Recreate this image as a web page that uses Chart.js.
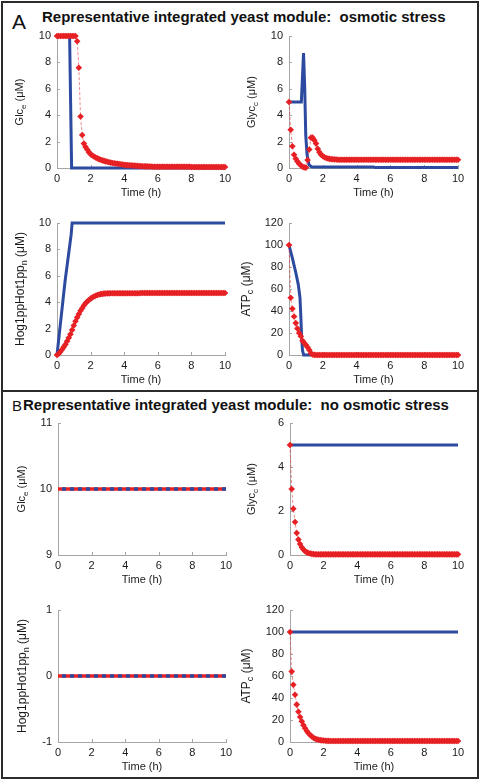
<!DOCTYPE html>
<html>
<head>
<meta charset="utf-8">
<script src="https://cdn.jsdelivr.net/npm/chart.js@4.4.1/dist/chart.umd.min.js"></script>
<style>
  html, body { margin: 0; padding: 0; background: #fff; }
  body { width: 480px; height: 780px; position: relative; overflow: hidden; font-family: "Liberation Sans", Arial, sans-serif; color: #111; }
  .frame { position: absolute; left: 1px; top: 1px; width: 478px; height: 778px; border: 2px solid #2b2b2b; box-sizing: border-box; }
  .divider { position: absolute; left: 1px; top: 390px; width: 478px; height: 2px; background: #2b2b2b; }
  .letter { position: absolute; line-height: 1; }
  .title { position: absolute; font-weight: bold; font-size: 15px; line-height: 1; white-space: pre; }
  canvas { position: absolute; }
</style>
</head>
<body>
<div class="frame"></div>
<div class="divider"></div>
<div class="letter" style="left:12px;top:11px;font-size:21px">A</div>
<div class="title" style="left:42px;top:9px">Representative integrated yeast module:  osmotic stress</div>
<div class="letter" style="left:12px;top:398px;font-size:15px">B</div>
<div class="title" style="left:23px;top:397px">Representative integrated yeast module:  no osmotic stress</div>

<canvas id="glcStress" width="228" height="174" style="left:7px;top:28px"></canvas>
<canvas id="glycStress" width="229" height="174" style="left:239px;top:28px"></canvas>
<canvas id="hogStress" width="228" height="174" style="left:7px;top:215px"></canvas>
<canvas id="atpStress" width="229" height="174" style="left:239px;top:215px"></canvas>
<canvas id="glcBase" width="228" height="174" style="left:8px;top:415px"></canvas>
<canvas id="glycBase" width="228" height="174" style="left:240px;top:415px"></canvas>
<canvas id="hogBase" width="228" height="174" style="left:8px;top:602px"></canvas>
<canvas id="atpBase" width="228" height="174" style="left:240px;top:602px"></canvas>

<script>
// time grid of the red (marker) series, hours
const tRed = [
  0, 0.1, 0.2, 0.3, 0.4, 0.5, 0.6, 0.7, 0.8, 0.9,
  1, 1.1, 1.2, 1.3, 1.4, 1.5, 1.6, 1.7, 1.8, 1.9,
  2, 2.1, 2.2, 2.3, 2.4, 2.5, 2.6, 2.7, 2.8, 2.9,
  3, 3.1, 3.2, 3.3, 3.4, 3.5, 3.6, 3.7, 3.8, 3.9,
  4, 4.1, 4.2, 4.3, 4.4, 4.5, 4.6, 4.7, 4.8, 4.9,
  5, 5.1, 5.2, 5.3, 5.4, 5.5, 5.6, 5.7, 5.8, 5.9,
  6, 6.1, 6.2, 6.3, 6.4, 6.5, 6.6, 6.7, 6.8, 6.9,
  7, 7.1, 7.2, 7.3, 7.4, 7.5, 7.6, 7.7, 7.8, 7.9,
  8, 8.1, 8.2, 8.3, 8.4, 8.5, 8.6, 8.7, 8.8, 8.9,
  9, 9.1, 9.2, 9.3, 9.4, 9.5, 9.6, 9.7, 9.8, 9.9,
  10
]

// A: osmotic stress, red series
const glcStressRed = [
  10, 10, 10, 10, 10, 10, 10, 10, 10, 10,
  10, 10, 9.6, 7.6, 3.9, 2.5, 1.85, 1.6, 1.4, 1.2,
  1.05, 0.95, 0.87, 0.8, 0.73, 0.67, 0.62, 0.58, 0.54, 0.5,
  0.47, 0.44, 0.41, 0.38, 0.36, 0.34, 0.32, 0.3, 0.28, 0.26,
  0.24, 0.23, 0.22, 0.21, 0.2, 0.19, 0.18, 0.17, 0.16, 0.15,
  0.14, 0.13, 0.13, 0.12, 0.12, 0.11, 0.11, 0.1, 0.1, 0.1,
  0.09, 0.09, 0.09, 0.09, 0.09, 0.09, 0.09, 0.09, 0.09, 0.09,
  0.09, 0.09, 0.09, 0.09, 0.09, 0.09, 0.09, 0.09, 0.09, 0.09,
  0.08, 0.08, 0.08, 0.08, 0.08, 0.08, 0.08, 0.08, 0.08, 0.08,
  0.08, 0.08, 0.08, 0.08, 0.08, 0.08, 0.08, 0.08, 0.08, 0.08,
  0.08
]
const glycStressRed = [
  5, 2.9, 1.65, 1.0, 0.7, 0.5, 0.32, 0.2, 0.1, 0.05,
  0.03, 0.6, 1.4, 2.3, 2.3, 2.1, 1.85, 1.45, 1.2, 1.0,
  0.9, 0.82, 0.76, 0.72, 0.69, 0.67, 0.66, 0.65, 0.64, 0.63,
  0.63, 0.63, 0.63, 0.63, 0.63, 0.63, 0.63, 0.63, 0.63, 0.63,
  0.63, 0.63, 0.63, 0.63, 0.63, 0.63, 0.63, 0.63, 0.63, 0.63,
  0.63, 0.63, 0.63, 0.63, 0.63, 0.63, 0.63, 0.63, 0.63, 0.63,
  0.63, 0.63, 0.63, 0.63, 0.63, 0.63, 0.63, 0.63, 0.63, 0.63,
  0.63, 0.63, 0.63, 0.63, 0.63, 0.63, 0.63, 0.63, 0.63, 0.63,
  0.63, 0.63, 0.63, 0.63, 0.63, 0.63, 0.63, 0.63, 0.63, 0.63,
  0.63, 0.63, 0.63, 0.63, 0.63, 0.63, 0.63, 0.63, 0.63, 0.63,
  0.63
]
const hogStressRed = [
  0, 0.1, 0.25, 0.42, 0.6, 0.8, 1.05, 1.3, 1.57, 1.9,
  2.23, 2.56, 2.85, 3.1, 3.35, 3.55, 3.75, 3.92, 4.05, 4.17,
  4.27, 4.36, 4.43, 4.49, 4.54, 4.58, 4.61, 4.63, 4.65, 4.66,
  4.67, 4.67, 4.68, 4.68, 4.68, 4.68, 4.68, 4.68, 4.68, 4.68,
  4.68, 4.68, 4.68, 4.68, 4.68, 4.68, 4.68, 4.68, 4.68, 4.68,
  4.7, 4.7, 4.7, 4.7, 4.7, 4.7, 4.7, 4.7, 4.7, 4.7,
  4.7, 4.7, 4.7, 4.7, 4.7, 4.7, 4.7, 4.7, 4.7, 4.7,
  4.7, 4.7, 4.7, 4.7, 4.7, 4.7, 4.7, 4.7, 4.7, 4.7,
  4.7, 4.7, 4.7, 4.7, 4.7, 4.7, 4.7, 4.7, 4.7, 4.7,
  4.7, 4.7, 4.7, 4.7, 4.7, 4.7, 4.7, 4.7, 4.7, 4.7,
  4.7
]
const atpStressRed = [
  100, 52, 42, 35, 29, 24, 20, 17, 13, 11,
  9, 7, 4.5, 1.5, 0.4, 0.1, 0, 0, 0, 0,
  0, 0, 0, 0, 0, 0, 0, 0, 0, 0,
  0, 0, 0, 0, 0, 0, 0, 0, 0, 0,
  0, 0, 0, 0, 0, 0, 0, 0, 0, 0,
  0, 0, 0, 0, 0, 0, 0, 0, 0, 0,
  0, 0, 0, 0, 0, 0, 0, 0, 0, 0,
  0, 0, 0, 0, 0, 0, 0, 0, 0, 0,
  0, 0, 0, 0, 0, 0, 0, 0, 0, 0,
  0, 0, 0, 0, 0, 0, 0, 0, 0, 0,
  0
]

// B: no osmotic stress, red series
const glycBaseRed = [
  5, 3.0, 2.1, 1.5, 1.0, 0.7, 0.5, 0.35, 0.25, 0.17,
  0.12, 0.09, 0.07, 0.05, 0.04, 0.03, 0.03, 0.03, 0.03, 0.03,
  0.03, 0.03, 0.03, 0.03, 0.03, 0.03, 0.03, 0.03, 0.03, 0.03,
  0.03, 0.03, 0.03, 0.03, 0.03, 0.03, 0.03, 0.03, 0.03, 0.03,
  0.03, 0.03, 0.03, 0.03, 0.03, 0.03, 0.03, 0.03, 0.03, 0.03,
  0.03, 0.03, 0.03, 0.03, 0.03, 0.03, 0.03, 0.03, 0.03, 0.03,
  0.03, 0.03, 0.03, 0.03, 0.03, 0.03, 0.03, 0.03, 0.03, 0.03,
  0.03, 0.03, 0.03, 0.03, 0.03, 0.03, 0.03, 0.03, 0.03, 0.03,
  0.03, 0.03, 0.03, 0.03, 0.03, 0.03, 0.03, 0.03, 0.03, 0.03,
  0.03, 0.03, 0.03, 0.03, 0.03, 0.03, 0.03, 0.03, 0.03, 0.03,
  0.03
]
const atpBaseRed = [
  100, 64, 52, 43, 34, 27.5, 22.7, 18.8, 15.3, 12.5,
  10, 8, 6.4, 5, 3.8, 3.0, 2.4, 2.0, 1.7, 1.45,
  1.3, 1.15, 1.05, 1.0, 0.95, 0.9, 0.9, 0.9, 0.9, 0.9,
  0.9, 0.9, 0.9, 0.9, 0.9, 0.9, 0.9, 0.9, 0.9, 0.9,
  0.9, 0.9, 0.9, 0.9, 0.9, 0.9, 0.9, 0.9, 0.9, 0.9,
  0.9, 0.9, 0.9, 0.9, 0.9, 0.9, 0.9, 0.9, 0.9, 0.9,
  0.9, 0.9, 0.9, 0.9, 0.9, 0.9, 0.9, 0.9, 0.9, 0.9,
  0.9, 0.9, 0.9, 0.9, 0.9, 0.9, 0.9, 0.9, 0.9, 0.9,
  0.9, 0.9, 0.9, 0.9, 0.9, 0.9, 0.9, 0.9, 0.9, 0.9,
  0.9, 0.9, 0.9, 0.9, 0.9, 0.9, 0.9, 0.9, 0.9, 0.9,
  0.9
]

// blue (line) series, each with its own time points
const tGlcStressBlue = [0, 0.75, 0.87, 10]
const glcStressBlue = [10, 10, 0, 0]
const tGlycStressBlue = [0, 0.73, 0.86, 0.88, 0.93, 0.99, 1.07, 1.18, 1.32, 1.5, 5, 5.1, 10]
const glycStressBlue = [5, 5, 8.7, 8.7, 6.1, 2.5, 1.0, 0.25, 0.1, 0.08, 0.08, 0.03, 0.03]
const tHogStressBlue = [0, 0.48, 0.84, 0.9, 10]
const hogStressBlue = [0, 5.6, 9.1, 10, 10]
const tAtpStressBlue = [0, 0.2, 0.4, 0.55, 0.65, 0.7, 0.75, 0.8, 0.87, 10]
const atpStressBlue = [100, 88, 75, 64, 52, 35, 15, 4, 0, 0]

const tSpan = [0, 10]
const glcBaseBlue = [10, 10]
const glcBaseRed = [10, 10]
const glycBaseBlue = [5, 5]
const hogBaseBlue = [0, 0]
const hogBaseRed = [0, 0]
const atpBaseBlue = [100, 100]

// tick labels
const timeTicks = [0, 2, 4, 6, 8, 10]
const ticks0to10 = [0, 2, 4, 6, 8, 10]
const ticksAtp = [0, 20, 40, 60, 80, 100, 120]
const ticksGlcBase = [9, 10, 11]
const ticksGlycBase = [0, 2, 4, 6]
const ticksHogBase = [-1, 0, 1]

const RED = 'rgb(230,32,36)'
const BLUE = 'rgb(44,74,160)'
const AXIS = '#a6a6a6'
const INK = '#1a1a1a'
const FONT = '"Liberation Sans", Arial, sans-serif'

const pts = (t, v) => t.map((x, i) => ({ x: x, y: v[i] }))

const redMarks = (t, v) => ({
  data: pts(t, v),
  borderColor: 'rgba(232,40,40,0.55)',
  borderWidth: 1,
  borderDash: [3, 2],
  pointStyle: 'rectRot',
  pointRadius: 3.3,
  pointBackgroundColor: RED,
  pointBorderWidth: 0,
  clip: false
})

const blueLine = (t, v) => ({
  data: pts(t, v),
  borderColor: BLUE,
  borderWidth: 3,
  pointRadius: 0,
  borderJoinStyle: 'miter',
  clip: false
})

// y axis title with a subscript, drawn rotated
const yLabel = {
  id: 'yLabel',
  afterDraw(chart, args, o) {
    const { ctx, chartArea: a } = chart
    const small = Math.round(o.size * 0.72)
    ctx.save()
    ctx.translate(a.left + o.offset, (a.top + a.bottom) / 2)
    ctx.rotate(-Math.PI / 2)
    ctx.fillStyle = INK
    ctx.textBaseline = 'middle'
    ctx.font = o.size + 'px ' + FONT
    const w1 = ctx.measureText(o.main).width
    const w3 = ctx.measureText(' (\u03bcM)').width
    ctx.font = small + 'px ' + FONT
    const w2 = ctx.measureText(o.sub).width
    let x = -(w1 + w2 + w3) / 2
    ctx.font = o.size + 'px ' + FONT
    ctx.fillText(o.main, x, 0)
    ctx.font = small + 'px ' + FONT
    ctx.fillText(o.sub, x + w1, o.size * 0.32)
    ctx.font = o.size + 'px ' + FONT
    ctx.fillText(' (\u03bcM)', x + w1 + w2, 0)
    ctx.restore()
  }
}

// short tick marks pointing into the plot
const innerTicks = {
  id: 'innerTicks',
  beforeDatasetsDraw(chart) {
    const { ctx, chartArea: a, scales } = chart
    ctx.save()
    ctx.strokeStyle = AXIS
    ctx.lineWidth = 1
    ctx.beginPath()
    scales.x.ticks.forEach(t => {
      const px = Math.round(scales.x.getPixelForValue(t.value)) + 0.5
      ctx.moveTo(px, a.bottom)
      ctx.lineTo(px, a.bottom - 3)
    })
    scales.y.ticks.forEach(t => {
      const py = Math.round(scales.y.getPixelForValue(t.value)) + 0.5
      ctx.moveTo(a.left, py)
      ctx.lineTo(a.left + 3, py)
    })
    ctx.stroke()
    ctx.restore()
  }
}

function makePlot(id, datasets, yTicks, label) {
  return new Chart(document.getElementById(id), {
    type: 'line',
    data: { datasets: datasets },
    plugins: [yLabel, innerTicks],
    options: {
      responsive: false,
      animation: false,
      devicePixelRatio: 1,
      layout: { padding: { top: 8, right: 10, left: 0, bottom: 0 } },
      plugins: { legend: { display: false }, tooltip: { enabled: false }, yLabel: label },
      scales: {
        x: {
          type: 'linear', min: 0, max: 10,
          afterBuildTicks: s => { s.ticks = timeTicks.map(v => ({ value: v })) },
          afterFit: s => { s.height = 34; s.paddingLeft = 0; s.paddingRight = 0 },
          grid: { drawOnChartArea: false, drawTicks: false },
          border: { color: AXIS },
          ticks: { font: { size: 11, family: FONT }, color: INK, padding: 4, maxRotation: 0 },
          title: { display: true, text: 'Time (h)', font: { size: 11, family: FONT }, color: INK, padding: { top: 2, bottom: 2 } }
        },
        y: {
          type: 'linear', min: yTicks[0], max: yTicks[yTicks.length - 1],
          afterBuildTicks: s => { s.ticks = yTicks.map(v => ({ value: v })) },
          afterFit: s => { s.width = 50; s.paddingTop = 0; s.paddingBottom = 0 },
          grid: { drawOnChartArea: false, drawTicks: false },
          border: { color: AXIS },
          ticks: { font: { size: 11, family: FONT }, color: INK, padding: 6 }
        }
      }
    }
  })
}

// A: osmotic stress
makePlot('glcStress', [redMarks(tRed, glcStressRed), blueLine(tGlcStressBlue, glcStressBlue)],
  ticks0to10, { main: 'Glc', sub: 'e', size: 11, offset: -37 })
makePlot('glycStress', [redMarks(tRed, glycStressRed), blueLine(tGlycStressBlue, glycStressBlue)],
  ticks0to10, { main: 'Glyc', sub: 'c', size: 11, offset: -37 })
makePlot('hogStress', [redMarks(tRed, hogStressRed), blueLine(tHogStressBlue, hogStressBlue)],
  ticks0to10, { main: 'Hog1ppHot1pp', sub: 'n', size: 12, offset: -36 })
makePlot('atpStress', [redMarks(tRed, atpStressRed), blueLine(tAtpStressBlue, atpStressBlue)],
  ticksAtp, { main: 'ATP', sub: 'c', size: 12, offset: -42 })

// B: no osmotic stress (flat red/blue overlays drawn as dashes)
const dashedBlue = (t, v) => Object.assign(blueLine(t, v), { borderWidth: 3.5, borderDash: [4, 4], borderDashOffset: 4 })
const flatRed = (t, v) => ({ data: pts(t, v), borderColor: RED, borderWidth: 3.5, pointRadius: 0, clip: false })

makePlot('glcBase', [dashedBlue(tSpan, glcBaseBlue), flatRed(tSpan, glcBaseRed)],
  ticksGlcBase, { main: 'Glc', sub: 'e', size: 11, offset: -36 })
makePlot('glycBase', [redMarks(tRed, glycBaseRed), blueLine(tSpan, glycBaseBlue)],
  ticksGlycBase, { main: 'Glyc', sub: 'c', size: 11, offset: -38 })
makePlot('hogBase', [dashedBlue(tSpan, hogBaseBlue), flatRed(tSpan, hogBaseRed)],
  ticksHogBase, { main: 'Hog1ppHot1pp', sub: 'n', size: 12, offset: -35 })
makePlot('atpBase', [redMarks(tRed, atpBaseRed), blueLine(tSpan, atpBaseBlue)],
  ticksAtp, { main: 'ATP', sub: 'c', size: 12, offset: -43 })
</script>
</body>
</html>
